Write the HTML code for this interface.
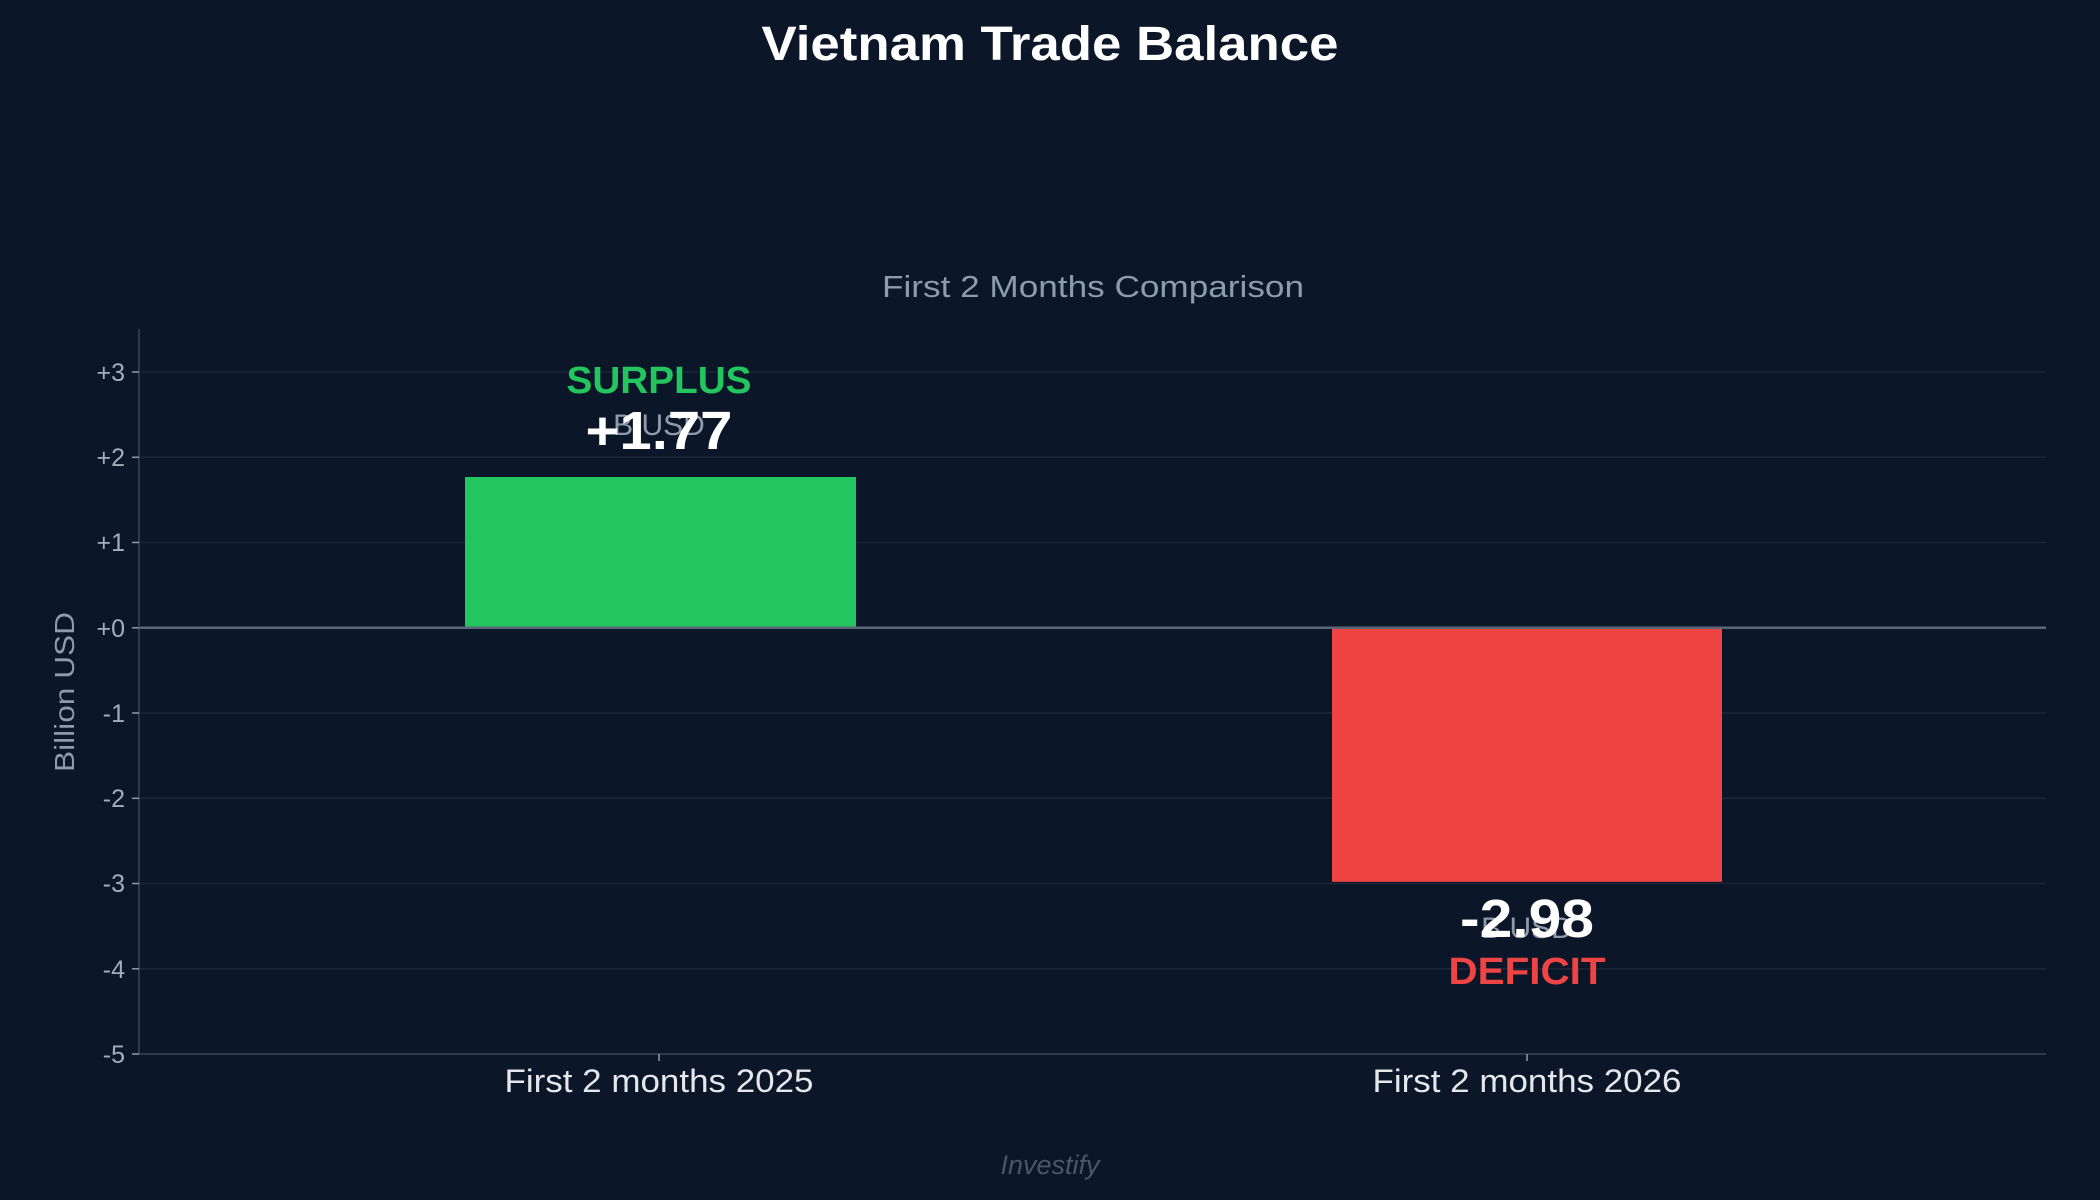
<!DOCTYPE html>
<html><head><meta charset="utf-8"><style>
html,body{margin:0;padding:0;background:#0b1628;}
svg{display:block;}
text{font-family:"Liberation Sans",sans-serif;}
</style></head><body>
<svg width="2100" height="1200" viewBox="0 0 2100 1200" xmlns="http://www.w3.org/2000/svg">
<rect width="2100" height="1200" fill="#0b1628"/>
<text x="1050" y="60" text-anchor="middle" font-size="48" font-weight="bold" fill="#ffffff" textLength="577" lengthAdjust="spacingAndGlyphs">Vietnam Trade Balance</text>
<text x="1093" y="297" text-anchor="middle" font-size="31" fill="#8d9bad" textLength="422" lengthAdjust="spacingAndGlyphs">First 2 Months Comparison</text>
<g stroke="#1b2638" stroke-width="1.5">
<line x1="139" x2="2046" y1="372" y2="372"/>
<line x1="139" x2="2046" y1="457.3" y2="457.3"/>
<line x1="139" x2="2046" y1="542.5" y2="542.5"/>
<line x1="139" x2="2046" y1="713" y2="713"/>
<line x1="139" x2="2046" y1="798.3" y2="798.3"/>
<line x1="139" x2="2046" y1="883.5" y2="883.5"/>
<line x1="139" x2="2046" y1="968.8" y2="968.8"/>
</g>
<rect x="465" y="477" width="391" height="150.8" fill="#22c55e"/>
<rect x="1332" y="627.8" width="390" height="254" fill="#ef4444"/>
<line x1="139" x2="2046" y1="627.8" y2="627.8" stroke="#5b6677" stroke-width="2.5"/>
<line x1="139" x2="139" y1="329" y2="1054" stroke="#3a4557" stroke-width="1.5"/>
<line x1="139" x2="2046" y1="1054" y2="1054" stroke="#3a4557" stroke-width="1.5"/>
<g stroke="#8d9bad" stroke-width="1.5">
<line x1="132" x2="139" y1="372" y2="372"/><line x1="132" x2="139" y1="457.3" y2="457.3"/>
<line x1="132" x2="139" y1="542.5" y2="542.5"/><line x1="132" x2="139" y1="627.8" y2="627.8"/>
<line x1="132" x2="139" y1="713" y2="713"/><line x1="132" x2="139" y1="798.3" y2="798.3"/>
<line x1="132" x2="139" y1="883.5" y2="883.5"/><line x1="132" x2="139" y1="968.8" y2="968.8"/>
<line x1="132" x2="139" y1="1054" y2="1054"/>
<line x1="659" x2="659" y1="1054" y2="1061"/><line x1="1527" x2="1527" y1="1054" y2="1061"/>
</g>
<g font-size="25" fill="#a3adbb" text-anchor="end">
<text x="125" y="381">+3</text><text x="125" y="466">+2</text><text x="125" y="551">+1</text>
<text x="125" y="637">+0</text><text x="125" y="722">-1</text><text x="125" y="807">-2</text>
<text x="125" y="892">-3</text><text x="125" y="978">-4</text><text x="125" y="1063">-5</text>
</g>
<text transform="translate(74,692) rotate(-90)" text-anchor="middle" font-size="28" fill="#8d9bad" textLength="160" lengthAdjust="spacingAndGlyphs">Billion USD</text>
<text x="659" y="1092" text-anchor="middle" font-size="32" fill="#e5e7eb" textLength="309" lengthAdjust="spacingAndGlyphs">First 2 months 2025</text>
<text x="1527" y="1092" text-anchor="middle" font-size="32" fill="#e5e7eb" textLength="309" lengthAdjust="spacingAndGlyphs">First 2 months 2026</text>
<text x="659" y="393" text-anchor="middle" font-size="38" font-weight="bold" fill="#22c55e" textLength="185" lengthAdjust="spacingAndGlyphs">SURPLUS</text>
<text x="659" y="435" text-anchor="middle" font-size="30" fill="#8d9bad">B USD</text>
<text x="659" y="449" text-anchor="middle" font-size="54" font-weight="bold" fill="#ffffff" textLength="147" lengthAdjust="spacingAndGlyphs">+1.77</text>
<text x="1527" y="938" text-anchor="middle" font-size="30" fill="#8d9bad">B USD</text>
<text x="1527" y="937" text-anchor="middle" font-size="54" font-weight="bold" fill="#ffffff" textLength="134" lengthAdjust="spacingAndGlyphs">-2.98</text>
<text x="1527" y="984" text-anchor="middle" font-size="38" font-weight="bold" fill="#ef4444" textLength="157" lengthAdjust="spacingAndGlyphs">DEFICIT</text>
<text x="1050" y="1174" text-anchor="middle" font-size="27" font-style="italic" fill="#4b5566">Investify</text>
</svg>
</body></html>
